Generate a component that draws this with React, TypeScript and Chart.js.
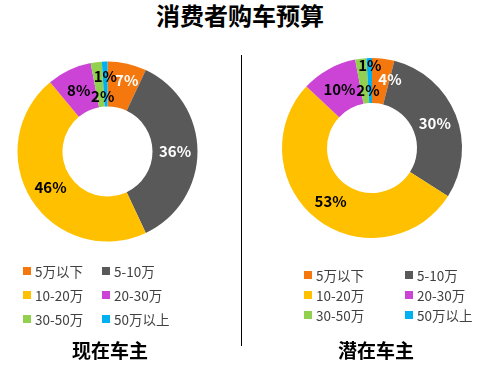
import React, { useEffect, useRef } from "react";
import { Chart, registerables } from "chart.js";

Chart.register(...registerables);

const categories = ["5万以下", "5-10万", "10-20万", "20-30万", "30-50万", "50万以上"];
const currentOwners = [7, 36, 46, 8, 2, 1];
const potentialOwners = [4, 30, 53, 10, 2, 1];
const sliceColors = ["#F5780F", "#595959", "#FFC000", "#CC44D6", "#92D050", "#00B0F0"];
const labelColors = ["#ffffff", "#ffffff", "#000000", "#000000", "#000000", "#000000"];
const titleText = "消费者购车预算";
const subtitles = ["现在车主", "潜在车主"];

const FONT = "'Noto Sans CJK SC', 'Noto Sans', sans-serif";
const W = 493;
const H = 383;

const sliceLabelPlugin = {
  id: "sliceLabels",
  afterDatasetsDraw(chart: any, _args: any, opts: any) {
    const ctx = chart.ctx;
    const meta = chart.getDatasetMeta(0);
    const data = chart.data.datasets[0].data;
    const adjust = (opts && opts.adjust) || {};
    ctx.save();
    ctx.font = `bold 15px ${FONT}`;
    ctx.textAlign = "center";
    ctx.textBaseline = "middle";
    meta.data.forEach((arc: any, i: number) => {
      const p = arc.getProps(["x", "y", "startAngle", "endAngle", "innerRadius", "outerRadius"], true);
      const mid = (p.startAngle + p.endAngle) / 2;
      const r = (p.innerRadius + p.outerRadius) / 2;
      const a = adjust[i] || [0, 0];
      const x = p.x + Math.cos(mid) * r + a[0];
      const y = p.y + Math.sin(mid) * r + a[1];
      ctx.fillStyle = labelColors[i];
      ctx.fillText(`${data[i]}%`, x, y);
    });
    ctx.restore();
  },
};

function Donut({ values, padding, adjust }: { values: number[]; padding: any; adjust: any }) {
  const ref = useRef<HTMLCanvasElement>(null);
  useEffect(() => {
    if (!ref.current) return;
    const chart = new Chart(ref.current, {
      type: "doughnut",
      data: {
        labels: categories,
        datasets: [
          {
            data: values,
            backgroundColor: sliceColors,
            borderWidth: 0,
          },
        ],
      },
      options: {
        responsive: false,
        animation: false,
        cutout: "50%",
        layout: { padding },
        plugins: {
          legend: { display: false },
          tooltip: { enabled: false },
          sliceLabels: { adjust },
        } as any,
      },
      plugins: [sliceLabelPlugin],
    });
    return () => chart.destroy();
  }, []);
  return (
    <canvas
      ref={ref}
      width={W}
      height={H}
      style={{ position: "absolute", left: 0, top: 0, width: W, height: H }}
    />
  );
}

function Legend({ left, top, colGap, rowGap }: { left: number; top: number; colGap: number; rowGap: number }) {
  return (
    <>
      {categories.map((c, i) => {
        const col = i % 2;
        const row = Math.floor(i / 2);
        return (
          <div
            key={c}
            style={{
              position: "absolute",
              left: left + col * colGap,
              top: top + row * rowGap - 10,
              height: 20,
              display: "flex",
              alignItems: "center",
              fontFamily: FONT,
              fontSize: 13.5,
              color: "#404040",
              whiteSpace: "nowrap",
            }}
          >
            <span
              style={{
                display: "inline-block",
                width: 8,
                height: 8,
                background: sliceColors[i],
                marginRight: 4,
              }}
            />
            <span>{c}</span>
          </div>
        );
      })}
    </>
  );
}

export default function App() {
  useEffect(() => {
    document.body.style.margin = "0";
  }, []);
  return (
    <div
      style={{
        position: "fixed",
        left: 0,
        top: 0,
        width: W,
        height: H,
        background: "#fff",
        overflow: "hidden",
      }}
    >
      <div
        style={{
          position: "absolute",
          left: 0,
          width: 480,
          top: 0,
          height: 30,
          lineHeight: "30px",
          textAlign: "center",
          fontFamily: FONT,
          fontWeight: "bold",
          fontSize: 24,
          color: "#000",
        }}
      >
        {titleText}
      </div>
      <div style={{ position: "absolute", left: 241, top: 55, width: 1, height: 291, background: "#000" }} />
      <Donut
        values={currentOwners}
        padding={{ left: 17.5, top: 61.5, right: W - 197.5, bottom: H - 241.5 }}
        adjust={{ 0: [4.5, -5.5], 4: [3.7, 11.5], 5: [0, -7.3] }}
      />
      <Donut
        values={potentialOwners}
        padding={{ left: 282, top: 58, right: W - 462, bottom: H - 238 }}
        adjust={{ 0: [9.5, -2], 4: [4.4, 9], 5: [0, -15.5] }}
      />
      <Legend left={23} top={271} colGap={79} rowGap={24} />
      <Legend left={304} top={275} colGap={101} rowGap={20} />
      {subtitles.map((s, i) => (
        <div
          key={s}
          style={{
            position: "absolute",
            left: i === 0 ? 110 - 60 : 376 - 60,
            width: 120,
            top: 350 - 15,
            height: 30,
            lineHeight: "30px",
            textAlign: "center",
            fontFamily: FONT,
            fontWeight: "bold",
            fontSize: 19,
            color: "#000",
          }}
        >
          {s}
        </div>
      ))}
    </div>
  );
}
